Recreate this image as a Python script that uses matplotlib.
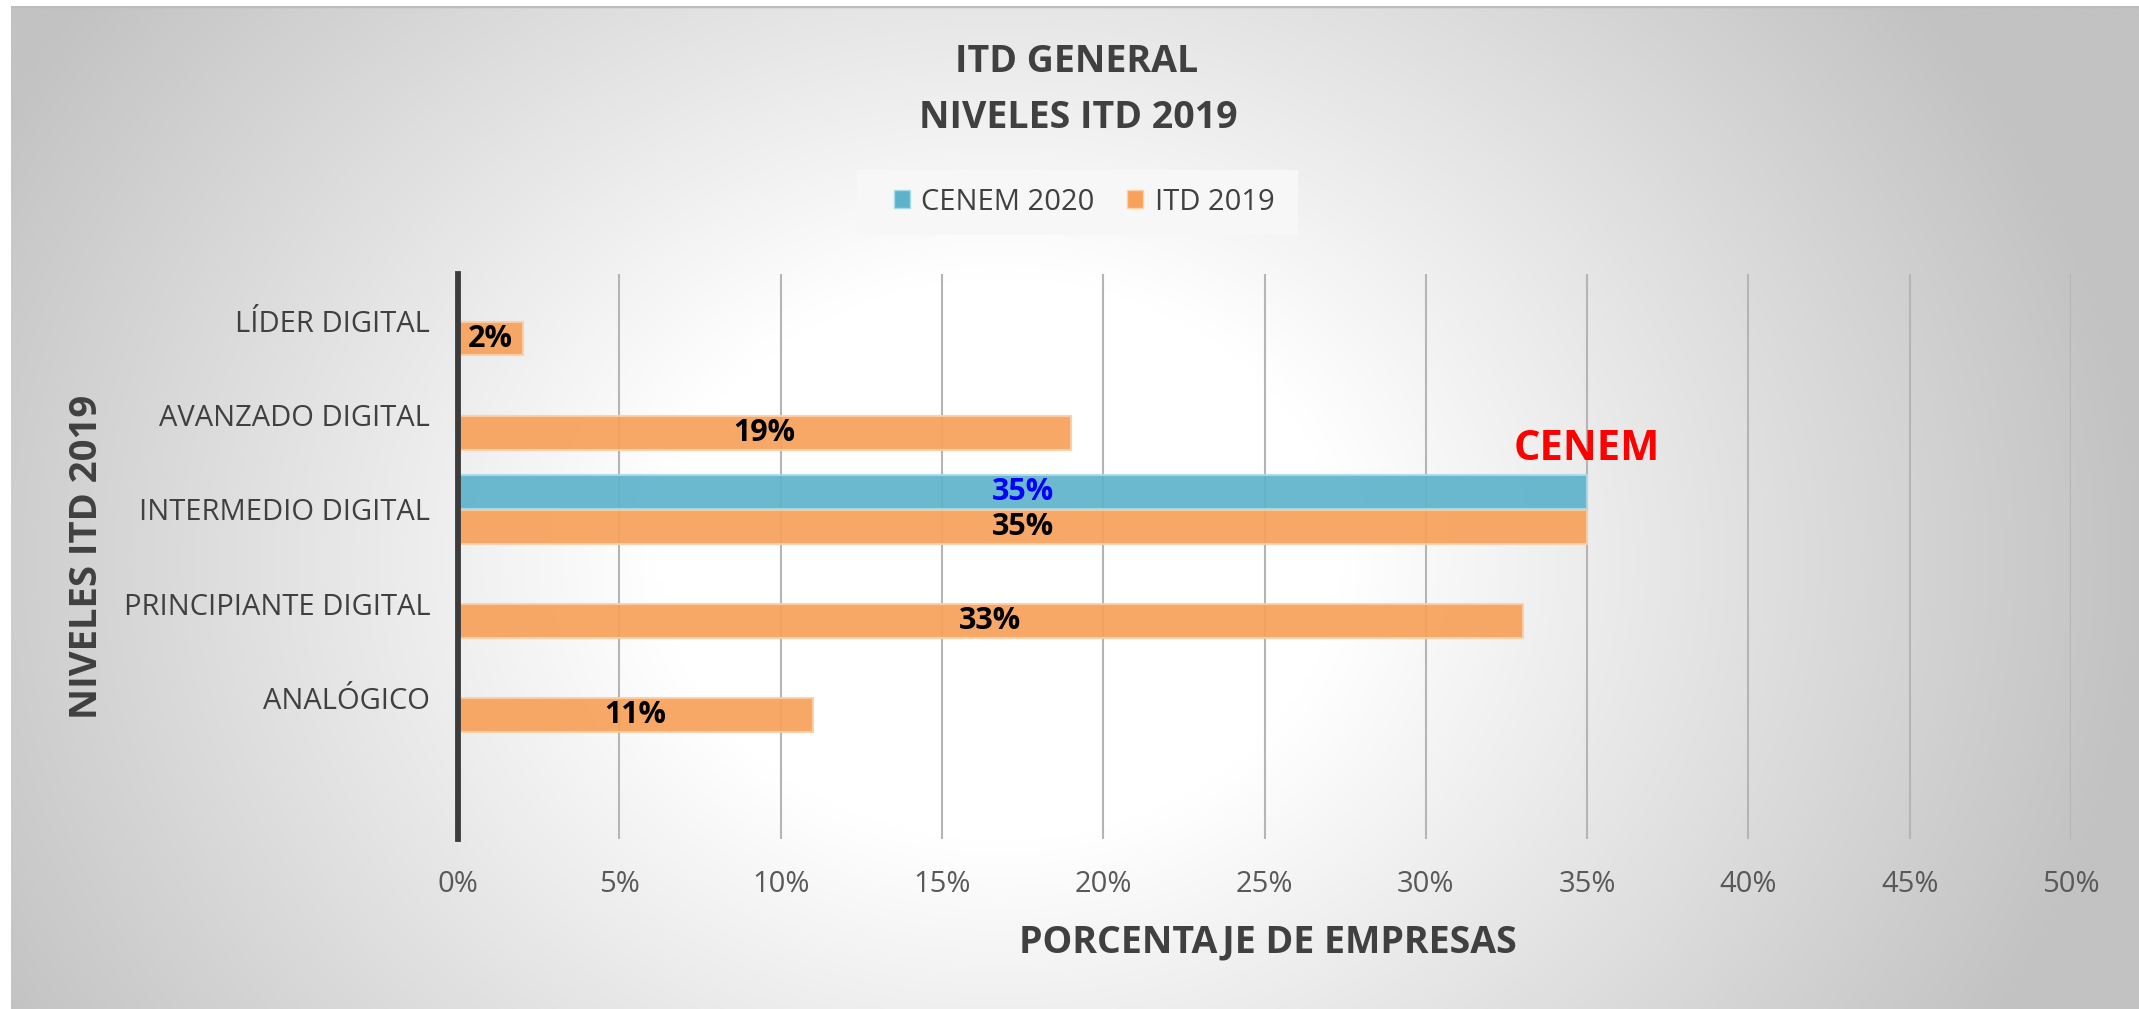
import numpy as np
import matplotlib
matplotlib.use("Agg")
import matplotlib.pyplot as plt
from matplotlib.patches import Patch, Rectangle

plt.rcParams['font.family'] = ['Open Sans', 'DejaVu Sans']

# ---- data ----
categories = ["ANALÓGICO", "PRINCIPIANTE DIGITAL", "INTERMEDIO DIGITAL",
              "AVANZADO DIGITAL", "LÍDER DIGITAL"]
itd_2019 = [11, 33, 35, 19, 2]
cenem_2020 = [np.nan, np.nan, 35, np.nan, np.nan]
x_ticks = [0, 5, 10, 15, 20, 25, 30, 35, 40, 45, 50]
x_tick_labels = [f"{v}%" for v in x_ticks]
series_names = ["CENEM 2020", "ITD 2019"]
cenem_marker_text = "CENEM"

W, H = 2139, 1009
fig = plt.figure(figsize=(W / 100, H / 100), dpi=100, facecolor="white")

# ---- radial gradient background ----
bg = fig.add_axes([11 / W, 0, (W - 11) / W, (H - 6) / H], zorder=-10)
gx = np.linspace(11, W, 400)
gy = np.linspace(6, H, 200)
X, Y = np.meshgrid(gx, gy)
cx, cy, rx, ry = 1000, 560, 1150, 950
t = np.sqrt(((X - cx) / rx) ** 2 + ((Y - cy) / ry) ** 2)
frac = np.clip((t - 0.3) / 0.7, 0, 1)
val = (255 - frac * (255 - 194)) / 255.0
img = np.dstack([val, val, val])
bg.imshow(img, extent=[0, 1, 0, 1], aspect="auto", interpolation="bilinear", origin="upper")
bg.axhline(1, color="#bdbdbd", lw=2.5)
bg.set_xlim(0, 1)
bg.set_ylim(0, 1)
bg.axis("off")

# ---- main axes ----
ax = fig.add_axes([458 / W, 170 / H, (2071 - 458) / W, (839 - 274) / H])
ax.patch.set_alpha(0)

y = np.arange(len(categories))
h = 0.36
off = 0.185
orange = "#f7a15a"
blue = "#5eb3cb"

ax.barh(y - off, itd_2019, height=h, color=orange, alpha=0.92,
        edgecolor="#fbcfa8", linewidth=1.5, zorder=3)
ax.barh(y + off, cenem_2020, height=h, color=blue, alpha=0.92,
        edgecolor="#a9dbe8", linewidth=1.5, zorder=3)

for yi, v in zip(y, itd_2019):
    ax.text(v / 2, yi - off, f"{v}%", ha="center", va="center",
            fontsize=22, fontweight="bold", color="black", zorder=5)
for yi, v in zip(y, cenem_2020):
    if not np.isnan(v):
        ax.text(v / 2, yi + off, f"{v:.0f}%", ha="center", va="center",
                fontsize=22, fontweight="bold", color="#0000ff", zorder=5)
        ax.text(v, yi + 0.64, cenem_marker_text, ha="center", va="center",
                fontsize=30, fontweight="bold", color="#ff0000", zorder=5)

ax.set_xlim(0, 50)
ax.set_ylim(-1.5, len(categories) - 0.5)
ax.set_xticks(x_ticks)
ax.set_xticklabels(x_tick_labels)
ax.set_yticks(y)
ax.set_yticklabels(categories)
ax.tick_params(axis="x", length=0, pad=22, labelsize=21, labelcolor="#595959")
ax.tick_params(axis="y", length=0, pad=20, labelsize=21, labelcolor="#404040")
ax.grid(axis="x", color="#b5b5b5", linewidth=1.5, zorder=1)
ax.set_axisbelow(True)
for s in ["top", "right", "bottom"]:
    ax.spines[s].set_visible(False)
ax.spines["left"].set_color("#3c3c3c")
ax.spines["left"].set_linewidth(4.2)
ax.spines["left"].set_zorder(6)

# ---- titles & axis labels ----
fig.text(1077 / W, 1 - 62 / H, "ITD GENERAL", ha="center", va="center",
         fontsize=27, fontweight="bold", color="#404040")
fig.text(1078 / W, 1 - 118 / H, "NIVELES ITD 2019", ha="center", va="center",
         fontsize=27, fontweight="bold", color="#404040")
fig.text(87 / W, 1 - 557 / H, "NIVELES ITD 2019", ha="center", va="center",
         rotation=90, fontsize=27.5, fontweight="bold", color="#404040")
fig.text(1268 / W, 1 - 942 / H, "PORCENTAJE DE EMPRESAS", ha="center", va="center",
         fontsize=27, fontweight="bold", color="#404040")

# ---- legend ----
fig.patches.append(Rectangle((857 / W, 1 - 235 / H), (1298 - 857) / W, 65 / H,
                             transform=fig.transFigure, facecolor="#f7f7f7",
                             edgecolor="none", zorder=1))
handles = [Patch(facecolor=blue, edgecolor="#a9dbe8"),
           Patch(facecolor=orange, edgecolor="#fbcfa8")]
leg = fig.legend(handles, series_names, loc="center", ncol=2,
                 bbox_to_anchor=(1084 / W, 1 - 202 / H), frameon=False,
                 fontsize=21, handlelength=0.55, handleheight=0.55,
                 handletextpad=0.4, columnspacing=1.1, labelcolor="#404040")
leg.set_zorder(2)

fig.savefig("out.png", dpi=100, facecolor="white")
